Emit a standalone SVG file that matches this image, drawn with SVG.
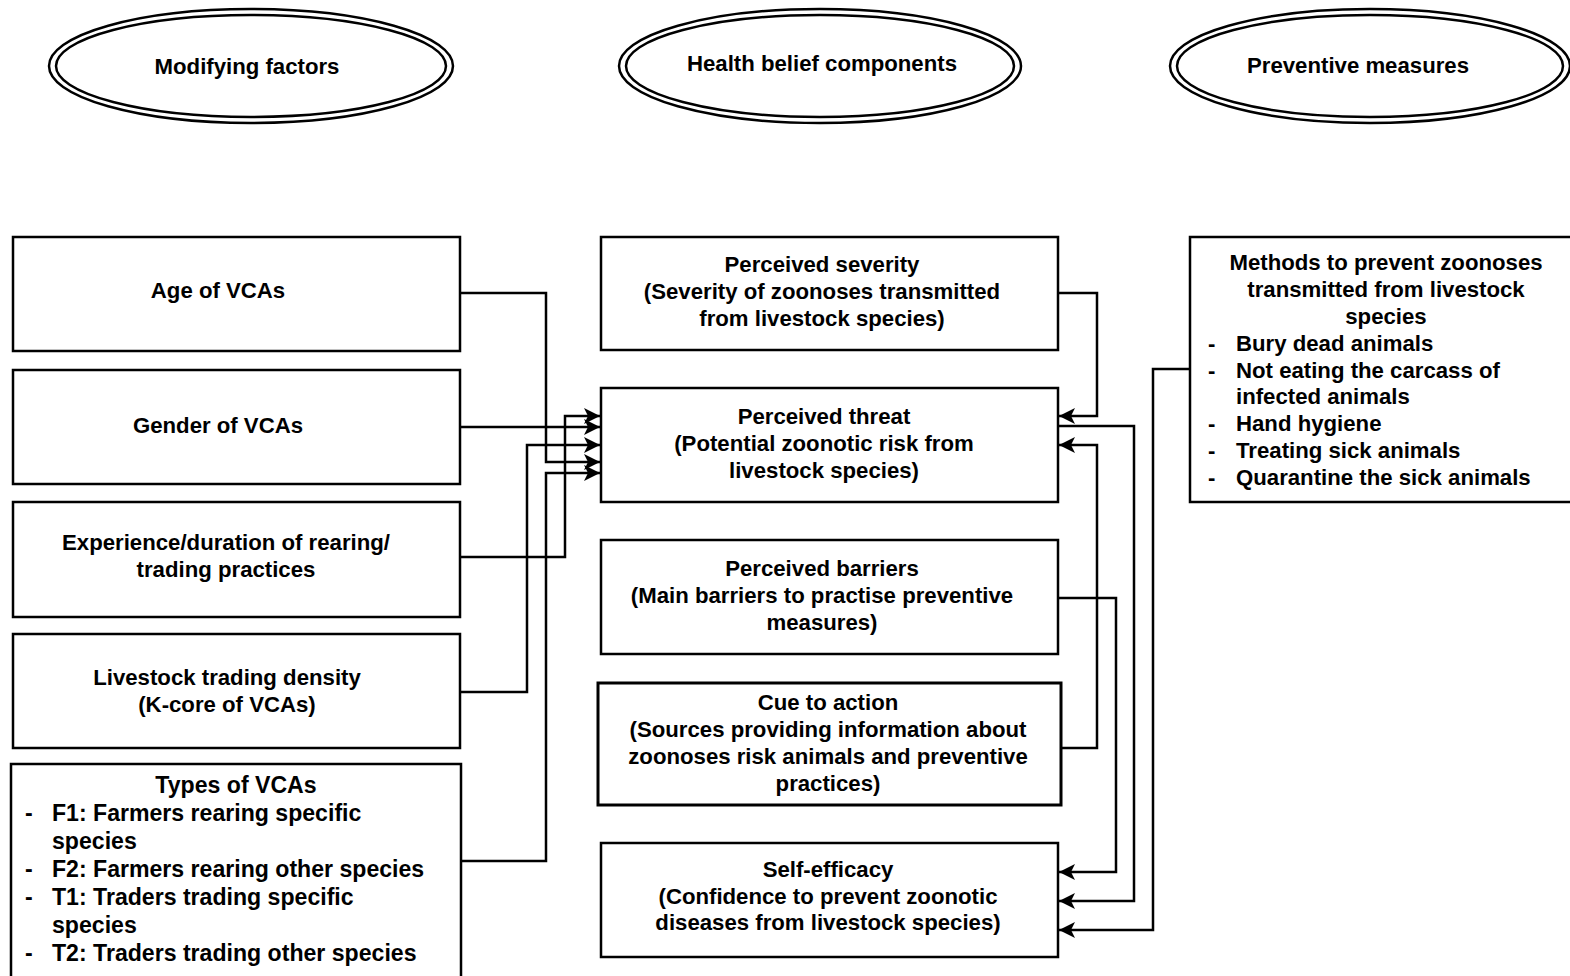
<svg xmlns="http://www.w3.org/2000/svg" width="1570" height="976" viewBox="0 0 1570 976">
  <style>
    text { font-family: "Liberation Sans", Arial, sans-serif; font-weight: bold; font-size: 22.2px; fill: #000; dominant-baseline: central; }
    .c { text-anchor: middle; }
    .big { font-size: 23.1px; }
    .box { fill: #fff; stroke: #000; stroke-width: 2.5; }
    .ell { fill: none; stroke: #000; stroke-width: 2.5; }
    .wire { fill: none; stroke: #000; stroke-width: 2.5; }
  </style>
  <defs>
    <marker id="arrow" markerUnits="userSpaceOnUse" markerWidth="18" markerHeight="18" refX="16" refY="8" orient="auto">
      <path d="M0,0 L16,8 L0,16 L4,8 z" fill="#000"/>
    </marker>
  </defs>
  <rect width="1570" height="976" fill="#fff"/>

  <!-- column headers -->
  <g id="hdr-modifying">
    <ellipse class="ell" cx="251" cy="66" rx="202" ry="57"/>
    <ellipse class="ell" cx="251" cy="66" rx="195" ry="51"/>
    <text class="c" x="247" y="66">Modifying factors</text>
  </g>
  <g id="hdr-health">
    <ellipse class="ell" cx="820" cy="66" rx="201" ry="57"/>
    <ellipse class="ell" cx="820" cy="66" rx="194" ry="51"/>
    <text class="c" x="822" y="63">Health belief components</text>
  </g>
  <g id="hdr-preventive">
    <ellipse class="ell" cx="1370" cy="66" rx="200" ry="57"/>
    <ellipse class="ell" cx="1370" cy="66" rx="193" ry="51"/>
    <text class="c" x="1358" y="65">Preventive measures</text>
  </g>

  <!-- connectors -->
  <g id="connectors">
    <path class="wire" marker-end="url(#arrow)" d="M460,293 H546 V462 H600"/>
    <path class="wire" marker-end="url(#arrow)" d="M460,427 H600"/>
    <path class="wire" marker-end="url(#arrow)" d="M460,557 H565 V416 H600"/>
    <path class="wire" marker-end="url(#arrow)" d="M460,692 H527 V445 H600"/>
    <path class="wire" marker-end="url(#arrow)" d="M461,861 H546 V473 H600"/>

    <path class="wire" marker-end="url(#arrow)" d="M1058,293 H1097 V416 H1059"/>
    <path class="wire" marker-end="url(#arrow)" d="M1061,748 H1097 V445 H1059"/>
    <path class="wire" marker-end="url(#arrow)" d="M1058,426 H1134 V901 H1059"/>
    <path class="wire" marker-end="url(#arrow)" d="M1058,598 H1116 V872 H1059"/>
    <path class="wire" marker-end="url(#arrow)" d="M1190,369 H1153 V930 H1059"/>
  </g>

  <!-- modifying factors -->
  <g id="age">
    <rect class="box" x="13" y="237" width="447" height="114"/>
    <text class="c" x="218" y="290">Age of VCAs</text>
  </g>
  <g id="gender">
    <rect class="box" x="13" y="370" width="447" height="114"/>
    <text class="c" x="218" y="425">Gender of VCAs</text>
  </g>
  <g id="experience">
    <rect class="box" x="13" y="502" width="447" height="115"/>
    <text class="c" x="226" y="542">Experience/duration of rearing/</text>
    <text class="c" x="226" y="569">trading practices</text>
  </g>
  <g id="density">
    <rect class="box" x="13" y="634" width="447" height="114"/>
    <text class="c" x="227" y="677">Livestock trading density</text>
    <text class="c" x="227" y="704">(K-core of VCAs)</text>
  </g>
  <g id="types">
    <rect class="box" x="11" y="764" width="450" height="230"/>
    <text class="c big" x="236" y="785">Types of VCAs</text>
    <text class="big" x="25" y="813">-</text><text class="big" x="52" y="813">F1: Farmers rearing specific</text>
    <text class="big" x="52" y="841">species</text>
    <text class="big" x="25" y="869">-</text><text class="big" x="52" y="869">F2: Farmers rearing other species</text>
    <text class="big" x="25" y="897">-</text><text class="big" x="52" y="897">T1: Traders trading specific</text>
    <text class="big" x="52" y="925">species</text>
    <text class="big" x="25" y="953">-</text><text class="big" x="52" y="953">T2: Traders trading other species</text>
  </g>

  <!-- health belief components -->
  <g id="severity">
    <rect class="box" x="601" y="237" width="457" height="113"/>
    <text class="c" x="822" y="264">Perceived severity</text>
    <text class="c" x="822" y="291">(Severity of zoonoses transmitted</text>
    <text class="c" x="822" y="318">from livestock species)</text>
  </g>
  <g id="threat">
    <rect class="box" x="601" y="388" width="457" height="114"/>
    <text class="c" x="824" y="416">Perceived threat</text>
    <text class="c" x="824" y="443">(Potential zoonotic risk from</text>
    <text class="c" x="824" y="470">livestock species)</text>
  </g>
  <g id="barriers">
    <rect class="box" x="601" y="540" width="457" height="114"/>
    <text class="c" x="822" y="568">Perceived barriers</text>
    <text class="c" x="822" y="595">(Main barriers to practise preventive</text>
    <text class="c" x="822" y="622">measures)</text>
  </g>
  <g id="cue">
    <rect class="box" x="598" y="683" width="463" height="122" style="stroke-width:3"/>
    <text class="c" x="828" y="702">Cue to action</text>
    <text class="c" x="828" y="729">(Sources providing information about</text>
    <text class="c" x="828" y="756">zoonoses risk animals and preventive</text>
    <text class="c" x="828" y="783">practices)</text>
  </g>
  <g id="efficacy">
    <rect class="box" x="601" y="843" width="457" height="114"/>
    <text class="c" x="828" y="869">Self-efficacy</text>
    <text class="c" x="828" y="896">(Confidence to prevent zoonotic</text>
    <text class="c" x="828" y="922">diseases from livestock species)</text>
  </g>

  <!-- preventive measures -->
  <g id="methods">
    <rect class="box" x="1190" y="237" width="420" height="265"/>
    <text class="c" x="1386" y="262">Methods to prevent zoonoses</text>
    <text class="c" x="1386" y="289">transmitted from livestock</text>
    <text class="c" x="1386" y="316">species</text>
    <text x="1208" y="343">-</text><text x="1236" y="343">Bury dead animals</text>
    <text x="1208" y="370">-</text><text x="1236" y="370">Not eating the carcass of</text>
    <text x="1236" y="396">infected animals</text>
    <text x="1208" y="423">-</text><text x="1236" y="423">Hand hygiene</text>
    <text x="1208" y="450">-</text><text x="1236" y="450">Treating sick animals</text>
    <text x="1208" y="477">-</text><text x="1236" y="477">Quarantine the sick animals</text>
  </g>
</svg>
